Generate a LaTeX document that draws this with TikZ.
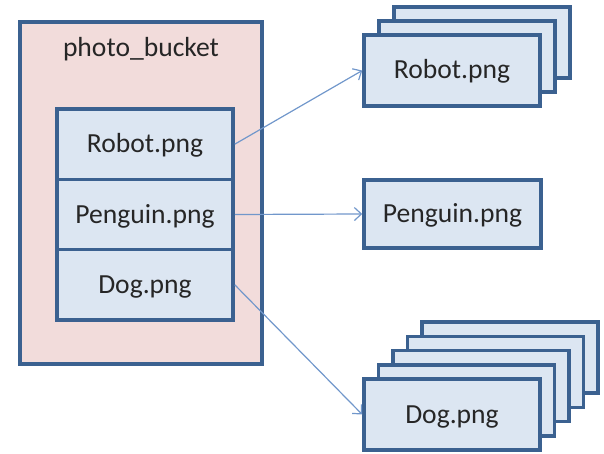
\documentclass[tikz,border=0pt]{standalone}
\usepackage{fontspec}
\setmainfont{Carlito}
\usetikzlibrary{arrows.meta}
\definecolor{bord}{HTML}{3B6190}
\definecolor{boxfill}{HTML}{DCE6F2}
\definecolor{bucketfill}{HTML}{F2DCDB}
\definecolor{arrowc}{HTML}{7197CB}
\definecolor{txt}{HTML}{262626}
\begin{document}
\begin{tikzpicture}[x=1pt,y=-1pt,
  base/.style={draw=bord,line width=3.5pt,inner sep=0pt,text height=17pt,text depth=0pt,
    font=\fontsize{27.6}{33}\selectfont,text=txt},
  box/.style={base,fill=boxfill,minimum width=176pt,minimum height=71pt},
  bucket/.style={base,fill=bucketfill,minimum width=242pt,minimum height=342pt},
  conn/.style={draw=arrowc,line width=1.2pt,-{Straight Barb[length=7pt,width=13pt,line width=1.2pt]}}]
\useasboundingbox (0,0) rectangle (604,454);
% bucket
\node[bucket] (bucket) at (141,193) {};
\node[font=\fontsize{27.6}{33}\selectfont,text=txt,anchor=base,inner sep=0pt] (title) at (141,57) {photo\_bucket};
\node[box,minimum height=70.3pt] (rob) at (145,144.2) {Robot.png};
\node[box,minimum height=70.3pt] (pen) at (145,214.5) {Penguin.png};
\node[box,minimum height=70.3pt] (dog) at (145,284.8) {Dog.png};
% robot stack
\node[box] (rob3) at (482,42.5) {};
\node[box] (rob2) at (467,56.5) {};
\node[box] (rrob) at (452,70.5) {Robot.png};
% penguin
\node[box,minimum width=177pt,minimum height=68pt] (rpen) at (452.5,214) {Penguin.png};
% dog stack
\node[box] (dog5) at (510,357.7) {};
\node[box] (dog4) at (495.5,371.9) {};
\node[box] (dog3) at (481,386.1) {};
\node[box] (dog2) at (466.5,400.3) {};
\node[box] (rdog) at (452,414.5) {Dog.png};
% connectors
\draw[conn] (rob.east) -- (rrob.west);
\draw[conn] (pen.east) -- (rpen.west);
\draw[conn] (dog.east) -- (rdog.west);
\end{tikzpicture}
\end{document}
